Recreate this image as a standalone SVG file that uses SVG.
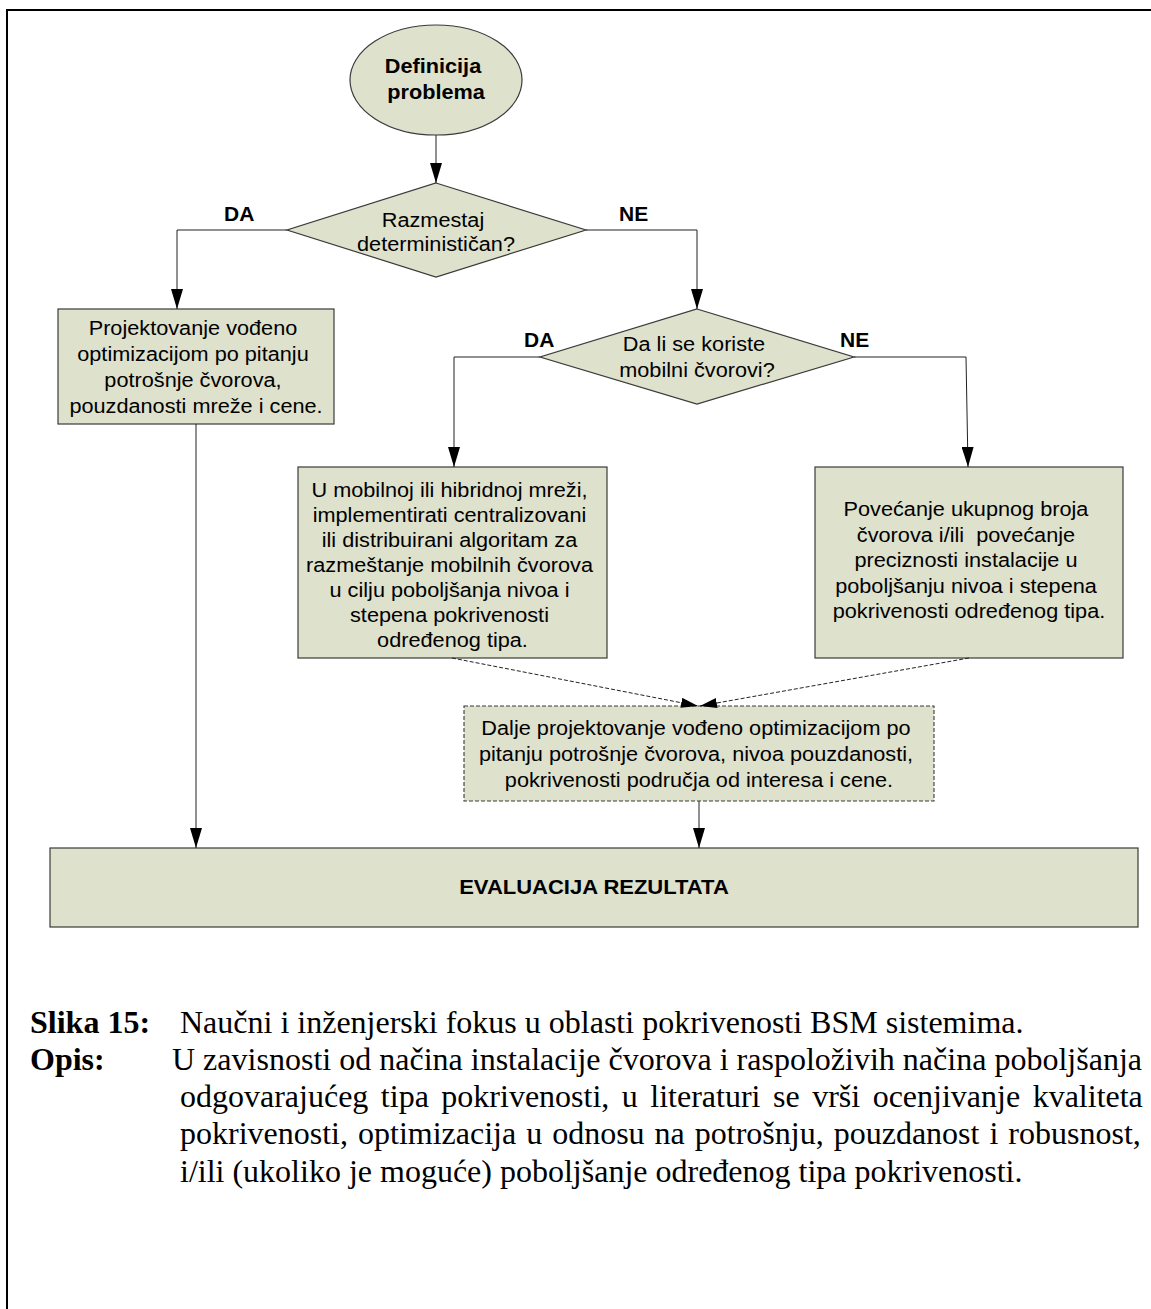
<svg xmlns="http://www.w3.org/2000/svg" width="1151" height="1309" viewBox="0 0 1151 1309">
  <style>
    .frame { stroke: #000; stroke-width: 2; fill: none; }
    .node { fill: #DEE1CC; stroke: #3a3a3a; stroke-width: 1.2; }
    .node-dash { fill: #DEE1CC; stroke: #3a3a3a; stroke-width: 1.1; stroke-dasharray: 4 2; }
    .t { font-family: "Liberation Sans", Arial, sans-serif; font-size: 20px; fill: #000; text-anchor: middle; }
    .b { font-weight: bold; }
    .lbl { font-family: "Liberation Sans", Arial, sans-serif; font-size: 20px; font-weight: bold; fill: #000; }
    .conn { stroke: #222; stroke-width: 1; fill: none; }
    .conn-dash { stroke: #222; stroke-width: 1; fill: none; stroke-dasharray: 4 2; }
    .cap { font-family: "Liberation Serif", "Times New Roman", serif; font-size: 32px; fill: #000; }
  </style>
  <defs>
    <marker id="arr" viewBox="0 0 20 12" refX="20" refY="6" markerWidth="20" markerHeight="12" markerUnits="userSpaceOnUse" orient="auto">
      <path d="M0,0 L20,6 L0,12 z" fill="#000"/>
    </marker>
    <marker id="arr-s" viewBox="0 0 17 10" refX="17" refY="5" markerWidth="17" markerHeight="10" markerUnits="userSpaceOnUse" orient="auto">
      <path d="M0,0 L17,5 L0,10 z" fill="#000"/>
    </marker>
  </defs>

  <rect width="1151" height="1309" fill="#fff"/>

  <!-- page frame: top and left rules only -->
  <path class="frame" d="M7,1309 V10 H1151"/>

  <!-- start -->
  <g id="n-start">
    <ellipse class="node" cx="436" cy="80" rx="86" ry="55"/>
    <text class="t b" transform="translate(436 0) scale(1.085 1)">
      <tspan x="0" y="73">Definicija</tspan>
      <tspan x="0" y="99">problema</tspan>
    </text>
  </g>

  <!-- decision: deterministic deployment -->
  <g id="n-deploy">
    <polygon class="node" points="436,183 586,230 436,277 287,230"/>
    <text class="t" transform="translate(436 0) scale(1.085 1)">
      <tspan x="0" y="227">Razmestaj</tspan>
      <tspan x="0" y="251">determinističan?</tspan>
    </text>
  </g>

  <!-- static design branch -->
  <g id="n-static">
    <rect class="node" x="58" y="309" width="276" height="115"/>
    <text class="t" transform="translate(196 0) scale(1.085 1)">
      <tspan x="0" y="335">Projektovanje vođeno</tspan>
      <tspan x="0" y="361">optimizacijom po pitanju</tspan>
      <tspan x="0" y="387">potrošnje čvorova,</tspan>
      <tspan x="0" y="413">pouzdanosti mreže i cene.</tspan>
    </text>
  </g>

  <!-- decision: mobile nodes -->
  <g id="n-mobile">
    <polygon class="node" points="697,309 854,357 697,404 540,357"/>
    <text class="t" transform="translate(697 0) scale(1.085 1)">
      <tspan x="0" y="351">Da li se koriste</tspan>
      <tspan x="0" y="377">mobilni čvorovi?</tspan>
    </text>
  </g>

  <!-- mobile / hybrid network -->
  <g id="n-hybrid">
    <rect class="node" x="298" y="467" width="309" height="191"/>
    <text class="t" transform="translate(452.5 0) scale(1.085 1)">
      <tspan x="0" y="497">U mobilnoj ili hibridnoj mreži,</tspan>
      <tspan x="0" y="522">implementirati centralizovani</tspan>
      <tspan x="0" y="547">ili distribuirani algoritam za</tspan>
      <tspan x="0" y="572">razmeštanje mobilnih čvorova</tspan>
      <tspan x="0" y="597">u cilju poboljšanja nivoa i</tspan>
      <tspan x="0" y="622">stepena pokrivenosti</tspan>
      <tspan x="0" y="647">određenog tipa.</tspan>
    </text>
  </g>

  <!-- more nodes / precision -->
  <g id="n-density">
    <rect class="node" x="815" y="467" width="308" height="191"/>
    <text class="t" transform="translate(969 0) scale(1.085 1)">
      <tspan x="0" y="516">Povećanje ukupnog broja</tspan>
      <tspan x="0" y="542">čvorova i/ili&#160; povećanje</tspan>
      <tspan x="0" y="567">preciznosti instalacije u</tspan>
      <tspan x="0" y="593">poboljšanju nivoa i stepena</tspan>
      <tspan x="0" y="618">pokrivenosti određenog tipa.</tspan>
    </text>
  </g>

  <!-- further design -->
  <g id="n-further">
    <rect class="node-dash" x="464" y="706" width="470" height="95"/>
    <text class="t" transform="translate(699 0) scale(1.085 1)">
      <tspan x="0" y="735">Dalje projektovanje vođeno optimizacijom po</tspan>
      <tspan x="0" y="761">pitanju potrošnje čvorova, nivoa pouzdanosti,</tspan>
      <tspan x="0" y="787">pokrivenosti područja od interesa i cene.</tspan>
    </text>
  </g>

  <!-- evaluation -->
  <g id="n-eval">
    <rect class="node" x="50" y="848" width="1088" height="79"/>
    <text class="t b" transform="translate(594 0) scale(1.1 1)">
      <tspan x="0" y="894">EVALUACIJA REZULTATA</tspan>
    </text>
  </g>

  <!-- connectors -->
  <g id="connectors">
    <path class="conn" d="M436,135 V183" marker-end="url(#arr)"/>
    <path class="conn" d="M287,230 H177 V309" marker-end="url(#arr)"/>
    <path class="conn" d="M586,230 H697 V309" marker-end="url(#arr)"/>
    <path class="conn" d="M540,357 H454 V467" marker-end="url(#arr)"/>
    <path class="conn" d="M854,357 H966 L968,467" marker-end="url(#arr)"/>
    <path class="conn-dash" d="M452,658 L698,706" marker-end="url(#arr-s)"/>
    <path class="conn-dash" d="M969,658 L700,706" marker-end="url(#arr-s)"/>
    <path class="conn" d="M196,424 V848" marker-end="url(#arr)"/>
    <path class="conn" d="M699,801 V848" marker-end="url(#arr)"/>
    <g class="lbl">
      <text transform="translate(224 221) scale(1.05 1)">DA</text>
      <text transform="translate(619 221) scale(1.05 1)">NE</text>
      <text transform="translate(524 347) scale(1.05 1)">DA</text>
      <text transform="translate(840 347) scale(1.05 1)">NE</text>
    </g>
  </g>

  <!-- figure caption -->
  <g id="caption" class="cap">
    <text x="30" y="1033" font-weight="bold">Slika 15:</text>
    <text x="180" y="1033">Naučni i inženjerski fokus u oblasti pokrivenosti BSM sistemima.</text>
    <text x="30" y="1070" font-weight="bold">Opis:</text>
    <text x="172" y="1070" textLength="970" lengthAdjust="spacing">U zavisnosti od načina instalacije čvorova i raspoloživih načina poboljšanja</text>
    <text x="180" y="1107" word-spacing="4.5">odgovarajućeg tipa pokrivenosti, u literaturi se vrši ocenjivanje kvaliteta</text>
    <text x="180" y="1144" word-spacing="2">pokrivenosti, optimizacija u odnosu na potrošnju, pouzdanost i robusnost,</text>
    <text x="180" y="1182">i/ili (ukoliko je moguće) poboljšanje određenog tipa pokrivenosti.</text>
  </g>
</svg>
